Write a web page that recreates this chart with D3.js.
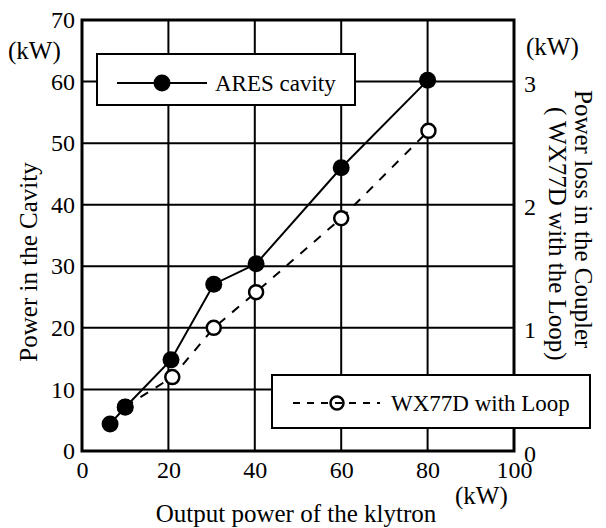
<!DOCTYPE html>
<html><head><meta charset="utf-8">
<script src="https://cdn.jsdelivr.net/npm/d3@7"></script>
<style>body{margin:0;background:#fff}svg{display:block}text{font-family:"Liberation Serif","Times New Roman",serif;fill:#000}</style>
</head><body>
<svg id="c" width="606" height="528" font-family="Liberation Serif"></svg>
<script>
const aresX = [6.5, 10, 20.6, 30.5, 40.3, 60, 80];
const aresY = [4.4, 7.1, 14.8, 27.1, 30.4, 46, 60.2];
const wxX = [10, 20.9, 30.5, 40.3, 60, 80.2];
const wxY = [0.36, 0.6, 1.0, 1.29, 1.89, 2.6];
const xTicks = [0, 20, 40, 60, 80, 100];
const yTicks = [0, 10, 20, 30, 40, 50, 60, 70];
const y2Ticks = [0, 1, 2, 3];

const svg = d3.select("#c");
const L = 82, R = 514, T = 20, B = 451;
const x = d3.scaleLinear().domain([0, 100]).range([L, R]);
const y = d3.scaleLinear().domain([0, 70]).range([B, T]);
const y2 = d3.scaleLinear().domain([0, 3.5]).range([B, T]);
const fs = 24, ft = 25, fl = 23;

// grid
const g = svg.append("g");
g.selectAll("line.v").data(xTicks.slice(1, -1)).join("line")
  .attr("x1", d => x(d)).attr("x2", d => x(d)).attr("y1", T).attr("y2", B)
  .attr("stroke", "#000").attr("stroke-width", 2);
g.selectAll("line.h").data(yTicks.slice(1, -1)).join("line")
  .attr("y1", d => y(d)).attr("y2", d => y(d)).attr("x1", L).attr("x2", R)
  .attr("stroke", "#000").attr("stroke-width", 2);

// axes via d3
const ax = svg.append("g").attr("transform", `translate(0,${B})`)
  .call(d3.axisBottom(x).tickValues(xTicks).tickSize(0).tickPadding(10).tickFormat(d3.format("d")));
ax.attr("font-family", "Liberation Serif").select(".domain").remove();
ax.selectAll("text").attr("font-size", fs).attr("dy", "0.72em");

const ay = svg.append("g").attr("transform", `translate(${L},0)`)
  .call(d3.axisLeft(y).tickValues(yTicks).tickSize(0).tickPadding(7).tickFormat(d3.format("d")));
ay.attr("font-family", "Liberation Serif").select(".domain").remove();
ay.selectAll("text").attr("font-size", fs);

const ay2 = svg.append("g").attr("transform", `translate(${R},0)`)
  .call(d3.axisRight(y2).tickValues(y2Ticks).tickSize(0).tickPadding(10).tickFormat(d3.format("d")));
ay2.attr("font-family", "Liberation Serif").select(".domain").remove();
ay2.selectAll("text").attr("font-size", fs)
  .attr("dy", d => d === 0 ? "0.45em" : "0.4em");

// frame
svg.append("rect").attr("x", L).attr("y", T).attr("width", R - L).attr("height", B - T)
  .attr("fill", "none").attr("stroke", "#000").attr("stroke-width", 3);

// wx series (dashed)
const wx = wxX.map((d, i) => [d, wxY[i]]);
svg.append("path").datum(wx)
  .attr("d", d3.line().x(d => x(d[0])).y(d => y2(d[1])))
  .attr("fill", "none").attr("stroke", "#000").attr("stroke-width", 2)
  .attr("stroke-dasharray", "9,9");
svg.selectAll("circle.wx").data(wx).join("circle")
  .attr("cx", d => x(d[0])).attr("cy", d => y2(d[1])).attr("r", 7)
  .attr("fill", "#fff").attr("stroke", "#000").attr("stroke-width", 2.5);

// ares series
const ares = aresX.map((d, i) => [d, aresY[i]]);
svg.append("path").datum(ares)
  .attr("d", d3.line().x(d => x(d[0])).y(d => y(d[1])))
  .attr("fill", "none").attr("stroke", "#000").attr("stroke-width", 2);
svg.selectAll("circle.ar").data(ares).join("circle")
  .attr("cx", d => x(d[0])).attr("cy", d => y(d[1])).attr("r", 8.5).attr("fill", "#000");

// legend 1
svg.append("rect").attr("x", 97).attr("y", 54).attr("width", 258).attr("height", 51)
  .attr("fill", "#fff").attr("stroke", "#000").attr("stroke-width", 2);
svg.append("line").attr("x1", 117).attr("x2", 207).attr("y1", 83).attr("y2", 83)
  .attr("stroke", "#000").attr("stroke-width", 2);
svg.append("circle").attr("cx", 162).attr("cy", 83).attr("r", 8.5).attr("fill", "#000");
svg.append("text").attr("x", 215).attr("y", 91).attr("font-size", fl).text("ARES cavity");

// legend 2
svg.append("rect").attr("x", 272).attr("y", 375).attr("width", 318).attr("height", 53)
  .attr("fill", "#fff").attr("stroke", "#000").attr("stroke-width", 2);
svg.append("line").attr("x1", 293).attr("x2", 380).attr("y1", 403).attr("y2", 403)
  .attr("stroke", "#000").attr("stroke-width", 2).attr("stroke-dasharray", "7,7");
svg.append("circle").attr("cx", 337).attr("cy", 403).attr("r", 6.5)
  .attr("fill", "none").attr("stroke", "#000").attr("stroke-width", 2.5);
svg.append("text").attr("x", 391).attr("y", 411).attr("font-size", fl).text("WX77D with Loop");

// unit labels
svg.append("text").attr("x", 8).attr("y", 59).attr("font-size", ft).text("(kW)");
svg.append("text").attr("x", 526).attr("y", 55).attr("font-size", ft).text("(kW)");
svg.append("text").attr("x", 455).attr("y", 504).attr("font-size", ft).text("(kW)");

// titles
svg.append("text").attr("x", 296).attr("y", 522).attr("text-anchor", "middle")
  .attr("font-size", ft).text("Output power of the klytron");
svg.append("text").attr("transform", "translate(37,262) rotate(-90)")
  .attr("text-anchor", "middle").attr("font-size", ft).text("Power in the Cavity");
svg.append("text").attr("transform", "translate(575,90) rotate(90)")
  .attr("text-anchor", "start").attr("font-size", ft).text("Power loss in the Coupler");
svg.append("text").attr("transform", "translate(549,107) rotate(90)")
  .attr("text-anchor", "start").attr("font-size", ft).text("( WX77D with the Loop)");
</script>
</body></html>
